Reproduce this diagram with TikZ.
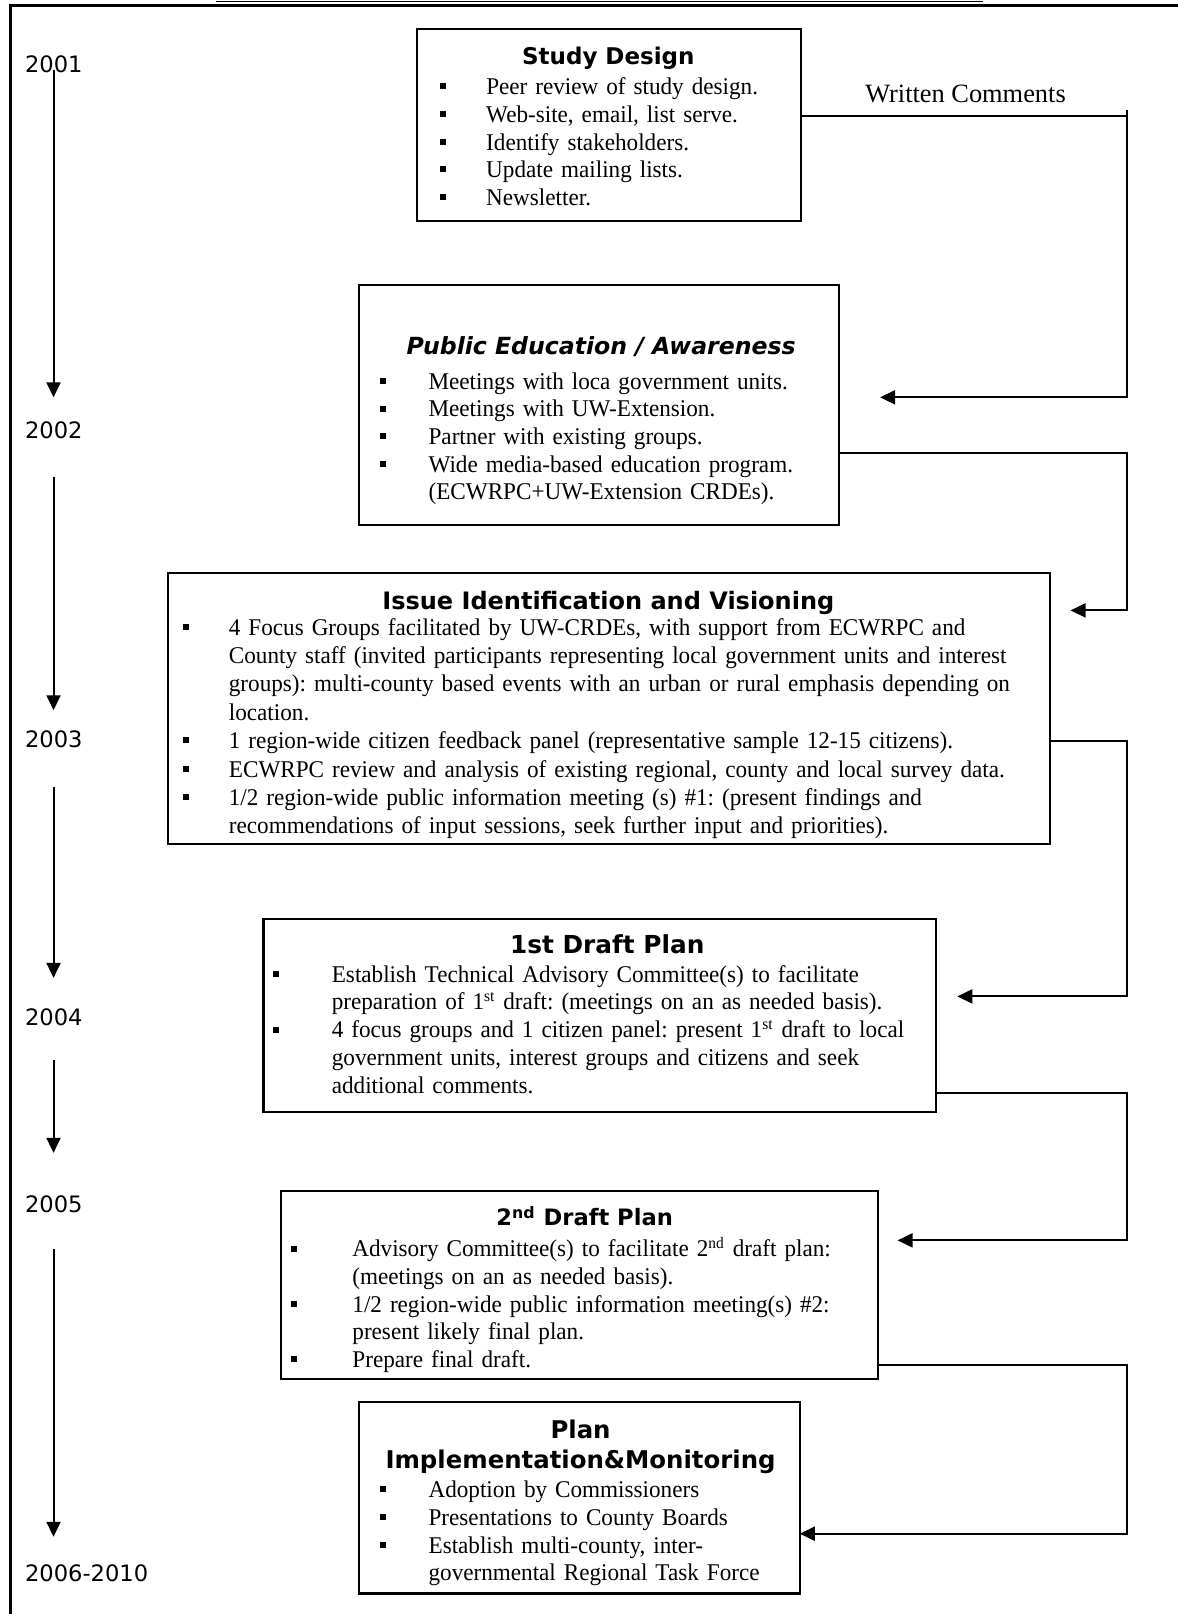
\documentclass[tikz,border=0pt]{standalone}
\usepackage{fontspec}
\setmainfont[FakeStretch=0.965]{Liberation Serif}
\newfontfamily\plainserif{Liberation Serif}
\newfontfamily\headfont{DejaVu Sans}
\usetikzlibrary{arrows.meta,fit}
\newcommand\bsq[1]{\leavevmode\llap{\rule[0.22em]{3pt}{3pt}\hspace{#1}}}
\tikzset{
  box/.style={draw, line width=1.1pt, inner sep=0pt},
  body/.style={font=\frenchspacing\fontsize{12}{13.85}\selectfont, anchor=base west, inner sep=0pt, align=left, text width=520pt},
  head/.style={font=\headfont\bfseries\fontsize{11.5}{14.6}\selectfont, anchor=base, inner sep=0pt, align=center},
  year/.style={font=\headfont\fontsize{11.3}{13}\selectfont, anchor=west, inner sep=0pt},
  fb/.style={line width=1pt, -{Triangle[width=7pt,length=7.5pt]}},
}
\begin{document}
\begin{tikzpicture}[x=0.51486pt,y=-0.51486pt]
\useasboundingbox (0,0) rectangle (1144,1568);
% frame and title rule
\draw[line width=1.5pt] (10,1568) -- (10,5) -- (1144,5);
\draw[line width=0.6pt] (210,1.2) -- (955,1.2);

% years
\node[year] (y1) at (24,62) {2001};
\node[year] (y2) at (24,418) {2002};
\node[year] (y3) at (24,718) {2003};
\node[year] (y4) at (24,988) {2004};
\node[year] (y5) at (24,1170) {2005};
\node[year] (y6) at (24,1528) {2006-2010};
\coordinate (a1s) at (52,68);   \coordinate (a1e) at (52,386);
\coordinate (a2s) at (52,463);  \coordinate (a2e) at (52,690);
\coordinate (a3s) at (52,765);  \coordinate (a3e) at (52,950);
\coordinate (a4s) at (52,1030); \coordinate (a4e) at (52,1120);
\coordinate (a5s) at (52,1213); \coordinate (a5e) at (52,1493);
\draw[fb] (a1s) -- (a1e);
\draw[fb] (a2s) -- (a2e);
\draw[fb] (a3s) -- (a3e);
\draw[fb] (a4s) -- (a4e);
\draw[fb] (a5s) -- (a5e);

% Study Design
\node[box, fit={(405,28) (778,215)}] (sd) {};
\node[head] (sdh) at (591,63) {Study Design};
\node[body] (sdt) at (472,92) {\bsq{20.1pt}Peer review of study design.\\
\bsq{20.1pt}Web-site, email, list serve.\\
\bsq{20.1pt}Identify stakeholders.\\
\bsq{20.1pt}Update mailing lists.\\
\bsq{20.1pt}Newsletter.};
\node[font=\plainserif\fontsize{13.2}{15}\selectfont, inner sep=0pt] (wc) at (938,91) {Written Comments};

% Public Education
\node[box, fit={(349,277) (815,510)}] (pe) {};
\node[head, font=\headfont\bfseries\itshape\fontsize{11.8}{14}\selectfont] (peh) at (584,344) {Public Education / Awareness};
\node[body] (pet) at (416,378) {\bsq{21.2pt}Meetings with loca government units.\\
\bsq{21.2pt}Meetings with UW-Extension.\\
\bsq{21.2pt}Partner with existing groups.\\
\bsq{21.2pt}Wide media-based education program.\\
(ECWRPC+UW-Extension CRDEs).};

% Issue Identification
\node[box, fit={(163,557) (1020,820)}] (is) {};
\node[head, font=\headfont\bfseries\fontsize{12}{14}\selectfont] (ish) at (591,592) {Issue Identification and Visioning};
\begin{scope}
\clip (is.south west) rectangle (is.north east);
\node[body, font=\frenchspacing\fontsize{12}{14.2}\selectfont] (ist) at (222,617) {\bsq{20.1pt}4 Focus Groups facilitated by UW-CRDEs, with support from ECWRPC and\\
County staff (invited participants representing local government units and interest\\
groups): multi-county based events with an urban or rural emphasis depending on\\
location.\\
\bsq{20.1pt}1 region-wide citizen feedback panel (representative sample 12-15 citizens).\\
\bsq{20.1pt}ECWRPC review and analysis of existing regional, county and local survey data.\\
\bsq{20.1pt}1/2 region-wide public information meeting (s) \#1: (present findings and\\
recommendations of input sessions, seek further input and priorities).};
\end{scope}

% 1st Draft
\node[box, fit={(256,893) (909,1080)}] (d1) {};
\node[head, font=\headfont\bfseries\fontsize{12.4}{14}\selectfont] (d1h) at (590,926) {1st Draft Plan};
\node[body, font=\frenchspacing\fontsize{12}{14}\selectfont] (d1t) at (322,954) {\bsq{26.3pt}Establish Technical Advisory Committee(s) to facilitate\\
preparation of 1\textsuperscript{st} draft: (meetings on an as needed basis).\\
\bsq{26.3pt}4 focus groups and 1 citizen panel: present 1\textsuperscript{st} draft to local\\
government units, interest groups and citizens and seek\\
additional comments.};

% 2nd Draft
\node[box, fit={(273,1157) (853,1340)}] (d2) {};
\node[head, font=\headfont\bfseries\fontsize{11.3}{14}\selectfont] (d2h) at (568,1191) {2\textsuperscript{nd} Draft Plan};
\node[body] (d2t) at (342,1221) {\bsq{27.8pt}Advisory Committee(s) to facilitate 2\textsuperscript{nd} draft plan:\\
(meetings on an as needed basis).\\
\bsq{27.8pt}1/2 region-wide public information meeting(s) \#2:\\
present likely final plan.\\
\bsq{27.8pt}Prepare final draft.};

% Plan Implementation
\node[box, fit={(349,1362) (777,1548)}] (pi) {};
\node[head, font=\headfont\bfseries\fontsize{12.2}{15}\selectfont] (pih) at (564,1427) {Plan\\Implementation\&Monitoring};
\begin{scope}
\clip (pi.south west) rectangle (pi.north east);
\node[body] (pit) at (416,1455) {\bsq{21.2pt}Adoption by Commissioners\\
\bsq{21.2pt}Presentations to County Boards\\
\bsq{21.2pt}Establish multi-county, inter-\\
governmental Regional Task Force};
\end{scope}

% feedback connectors
\coordinate (k0) at (1095,107);
\coordinate (k1) at (1095,113);  \coordinate (t1) at (855,386);
\coordinate (k2) at (1095,440);  \coordinate (t2) at (1040,593);
\coordinate (k3) at (1095,720);  \coordinate (t3) at (930,968);
\coordinate (k4) at (1095,1062); \coordinate (t4) at (872,1205);
\coordinate (k5) at (1095,1326); \coordinate (t5) at (777,1490);
\draw[line width=1pt] (k0) -- (k1);
\draw[fb] (sd.east |- k1) -- (k1) -- (k1 |- t1) -- (t1);
\draw[fb] (pe.east |- k2) -- (k2) -- (k2 |- t2) -- (t2);
\draw[fb] (is.east |- k3) -- (k3) -- (k3 |- t3) -- (t3);
\draw[fb] (d1.east |- k4) -- (k4) -- (k4 |- t4) -- (t4);
\draw[fb] (d2.east |- k5) -- (k5) -- (k5 |- t5) -- (t5);
\end{tikzpicture}
\end{document}
